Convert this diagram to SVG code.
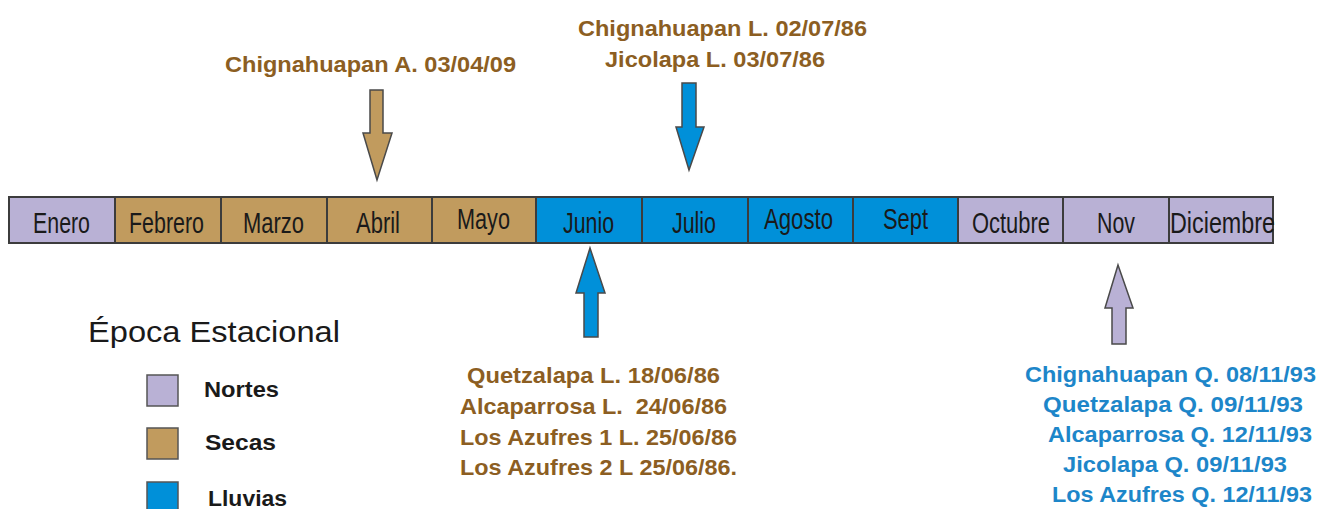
<svg xmlns="http://www.w3.org/2000/svg" width="1323" height="509" viewBox="0 0 1323 509">
<style>
.cell{stroke:#3c3c3c;stroke-width:2}
.nor{fill:#b9b1d5}
.sec{fill:#c19b5e}
.llu{fill:#0090d9}
.mon{font-family:"Liberation Sans Narrow","Liberation Sans",Arial,sans-serif;font-size:29px;fill:#1a1a1a;text-anchor:start}
.br{font-family:"Liberation Sans",Arial,sans-serif;font-weight:bold;font-size:22px;fill:#8c5e22}
.bl{font-family:"Liberation Sans",Arial,sans-serif;font-weight:bold;font-size:22px;fill:#1d86c9}
.arr{stroke:#4a4a4a;stroke-width:1.5;stroke-linejoin:miter}
.leg{font-family:"Liberation Sans",Arial,sans-serif;font-weight:bold;font-size:22px;fill:#1a1a1a}
.lsq{stroke:#555;stroke-width:1.5}
</style>
<rect width="1323" height="509" fill="#ffffff"/>

<g id="timeline">
<g id="m-enero"><rect class="cell nor" x="9" y="197" width="106" height="46"/><text class="mon" x="33" y="233" textLength="57" lengthAdjust="spacingAndGlyphs">Enero</text></g>
<g id="m-febrero"><rect class="cell sec" x="115" y="197" width="106" height="46"/><text class="mon" x="129" y="233" textLength="75" lengthAdjust="spacingAndGlyphs">Febrero</text></g>
<g id="m-marzo"><rect class="cell sec" x="221" y="197" width="106" height="46"/><text class="mon" x="243" y="233" textLength="61" lengthAdjust="spacingAndGlyphs">Marzo</text></g>
<g id="m-abril"><rect class="cell sec" x="327" y="197" width="105" height="46"/><text class="mon" x="356" y="233" textLength="44" lengthAdjust="spacingAndGlyphs">Abril</text></g>
<g id="m-mayo"><rect class="cell sec" x="432" y="197" width="104" height="46"/><text class="mon" x="457" y="229" textLength="53" lengthAdjust="spacingAndGlyphs">Mayo</text></g>
<g id="m-junio"><rect class="cell llu" x="536" y="197" width="106" height="46"/><text class="mon" x="563" y="233" textLength="51" lengthAdjust="spacingAndGlyphs">Junio</text></g>
<g id="m-julio"><rect class="cell llu" x="642" y="197" width="106" height="46"/><text class="mon" x="672" y="233" textLength="44" lengthAdjust="spacingAndGlyphs">Julio</text></g>
<g id="m-agosto"><rect class="cell llu" x="748" y="197" width="105" height="46"/><text class="mon" x="764" y="229" textLength="69" lengthAdjust="spacingAndGlyphs">Agosto</text></g>
<g id="m-sept"><rect class="cell llu" x="853" y="197" width="105" height="46"/><text class="mon" x="883" y="229" textLength="45" lengthAdjust="spacingAndGlyphs">Sept</text></g>
<g id="m-octubre"><rect class="cell nor" x="958" y="197" width="105" height="46"/><text class="mon" x="972" y="233" textLength="78" lengthAdjust="spacingAndGlyphs">Octubre</text></g>
<g id="m-nov"><rect class="cell nor" x="1063" y="197" width="106" height="46"/><text class="mon" x="1097" y="233" textLength="38" lengthAdjust="spacingAndGlyphs">Nov</text></g>
<g id="m-diciembre"><rect class="cell nor" x="1169" y="197" width="104" height="46"/><text class="mon" x="1170" y="233" textLength="105" lengthAdjust="spacingAndGlyphs">Diciembre</text></g>
</g>

<g id="connectors">
<polygon id="arrow-abril" class="arr sec" points="370,90 383,90 383,133 392,133 377,180 363,133 370,133"/>
<polygon id="arrow-julio" class="arr llu" points="682,83 696,83 696,127 704,127 689,170 676,127 682,127"/>
<polygon id="arrow-junio" class="arr llu" points="590,248 605,293 598,293 598,337 584,337 584,293 576,293"/>
<polygon id="arrow-nov" class="arr nor" points="1118,265 1133,308 1126,308 1126,344 1112,344 1112,308 1105,308"/>
</g>

<g id="label-abril">
<text class="br" x="225" y="72" textLength="291" lengthAdjust="spacingAndGlyphs">Chignahuapan A. 03/04/09</text>
</g>

<g id="label-julio">
<text class="br" x="578" y="36" textLength="289" lengthAdjust="spacingAndGlyphs">Chignahuapan L. 02/07/86</text>
<text class="br" x="605" y="67" textLength="220" lengthAdjust="spacingAndGlyphs">Jicolapa L. 03/07/86</text>
</g>

<g id="label-junio">
<text class="br" x="467" y="383" textLength="253" lengthAdjust="spacingAndGlyphs">Quetzalapa L. 18/06/86</text>
<text class="br" x="460" y="414" textLength="267" lengthAdjust="spacingAndGlyphs" xml:space="preserve">Alcaparrosa L.  24/06/86</text>
<text class="br" x="460" y="445" textLength="277" lengthAdjust="spacingAndGlyphs">Los Azufres 1 L. 25/06/86</text>
<text class="br" x="460" y="475" textLength="277" lengthAdjust="spacingAndGlyphs">Los Azufres 2 L 25/06/86.</text>
</g>

<g id="label-nov">
<text class="bl" x="1025" y="382" textLength="291" lengthAdjust="spacingAndGlyphs">Chignahuapan Q. 08/11/93</text>
<text class="bl" x="1043" y="412" textLength="260" lengthAdjust="spacingAndGlyphs">Quetzalapa Q. 09/11/93</text>
<text class="bl" x="1048" y="442" textLength="264" lengthAdjust="spacingAndGlyphs">Alcaparrosa Q. 12/11/93</text>
<text class="bl" x="1063" y="472" textLength="224" lengthAdjust="spacingAndGlyphs">Jicolapa Q. 09/11/93</text>
<text class="bl" x="1052" y="502" textLength="260" lengthAdjust="spacingAndGlyphs">Los Azufres Q. 12/11/93</text>
</g>

<g id="legend">
<text x="88" y="342" font-family="'Liberation Sans',Arial,sans-serif" font-size="30" fill="#1a1a1a" textLength="252" lengthAdjust="spacingAndGlyphs">Época Estacional</text>
<g id="legend-nortes"><rect class="lsq nor" x="147" y="375" width="31" height="31"/><text class="leg" x="204" y="397" textLength="75" lengthAdjust="spacingAndGlyphs">Nortes</text></g>
<g id="legend-secas"><rect class="lsq sec" x="147" y="428" width="31" height="31"/><text class="leg" x="205" y="450" textLength="71" lengthAdjust="spacingAndGlyphs">Secas</text></g>
<g id="legend-lluvias"><rect class="lsq llu" x="147" y="482" width="31" height="31"/><text class="leg" x="208" y="506" textLength="79" lengthAdjust="spacingAndGlyphs">Lluvias</text></g>
</g>
</svg>
